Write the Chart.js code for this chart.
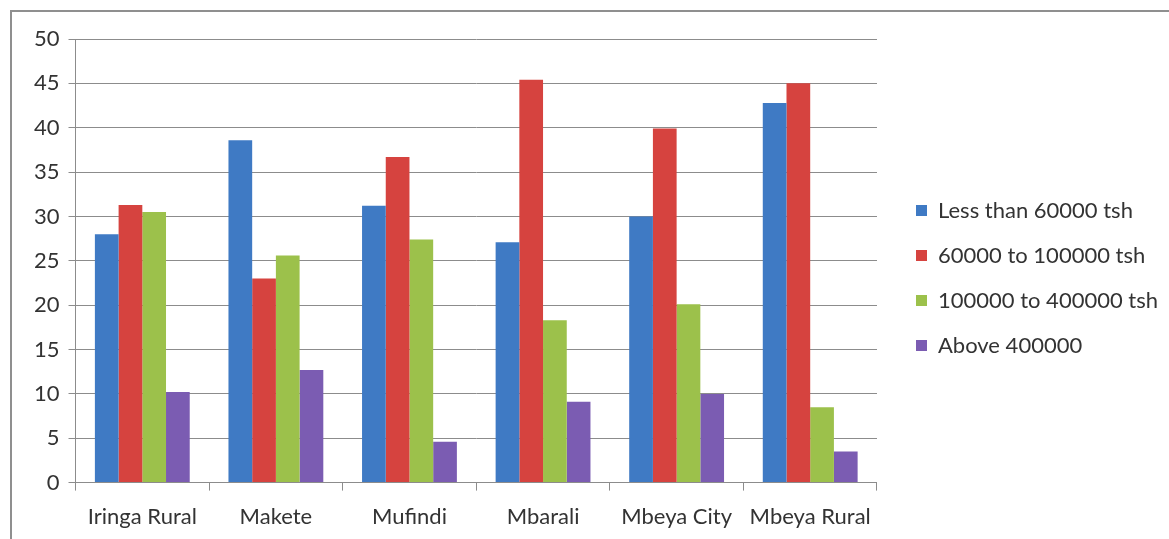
<!DOCTYPE html>
<html>
<head>
<meta charset="utf-8">
<script src="https://cdn.jsdelivr.net/npm/chart.js@4.4.1/dist/chart.umd.min.js"></script>
<style>
  html, body { margin: 0; padding: 0; background: #fff; overflow: hidden; }
  #frame {
    position: absolute; left: 10px; top: 10px; width: 1300px; height: 700px;
    border-left: 2px solid #8f8f8f; border-top: 2px solid #8f8f8f;
  }
  #wrap { position: absolute; left: 0; top: 0; width: 1169px; height: 539px; }
</style>
</head>
<body>
<div id="frame"></div>
<div id="wrap"><canvas id="incomeChart"></canvas></div>
<script>
const districts = ["Iringa Rural", "Makete", "Mufindi", "Mbarali", "Mbeya City", "Mbeya Rural"];

const lessThan60k    = [28.0, 38.6, 31.2, 27.1, 30.0, 42.8];
const from60kTo100k  = [31.3, 23.0, 36.7, 45.4, 39.9, 45.0];
const from100kTo400k = [30.5, 25.6, 27.4, 18.3, 20.1, 8.5];
const above400k      = [10.2, 12.7, 4.6, 9.1, 10.0, 3.5];

const yTicks = [0, 5, 10, 15, 20, 25, 30, 35, 40, 45, 50];

const seriesNames = ["Less than 60000 tsh", "60000 to 100000 tsh", "100000 to 400000 tsh", "Above 400000"];
const seriesColors = ["#3f7ac4", "#d6433f", "#9cc14b", "#7b5cb2"];

const gridGrey = "#8c8c8c";
const textGrey = "#333333";
const font = { family: "Lato", size: 22 };

// nudge the legend block after layout (x right, y up)
const legendShift = {
  id: "legendShift",
  afterLayout(chart) {
    const lg = chart.legend;
    if (!lg) return;
    lg.left += 16; lg.right += 16;
    lg.top -= 13; lg.bottom -= 13;
  }
};

const ctx = document.getElementById("incomeChart").getContext("2d");

new Chart(ctx, {
  type: "bar",
  data: {
    labels: districts,
    datasets: [lessThan60k, from60kTo100k, from100kTo400k, above400k].map((values, i) => ({
      label: seriesNames[i],
      data: values,
      backgroundColor: seriesColors[i],
      borderWidth: 0,
      barPercentage: 1,
      categoryPercentage: 0.71
    }))
  },
  plugins: [legendShift],
  options: {
    responsive: true,
    maintainAspectRatio: false,
    animation: false,
    layout: { padding: { left: 25, top: 39, bottom: -4, right: 17 } },
    plugins: {
      tooltip: { enabled: false },
      legend: {
        position: "right",
        align: "center",
        labels: {
          font: font,
          color: textGrey,
          boxWidth: 11,
          boxHeight: 11,
          padding: 23
        }
      }
    },
    scales: {
      x: {
        grid: {
          display: true,
          drawOnChartArea: false,
          drawTicks: true,
          tickLength: 8,
          color: gridGrey
        },
        border: { display: true, color: gridGrey, width: 1 },
        ticks: { font: font, color: textGrey, padding: 13, maxRotation: 0 }
      },
      y: {
        min: 0,
        max: 50,
        afterBuildTicks: axis => { axis.ticks = yTicks.map(v => ({ value: v })); },
        grid: { color: gridGrey, lineWidth: 1, tickLength: 7 },
        border: { display: true, color: gridGrey, width: 1 },
        ticks: { font: font, color: textGrey, padding: 9 }
      }
    }
  }
});
</script>
</body>
</html>
